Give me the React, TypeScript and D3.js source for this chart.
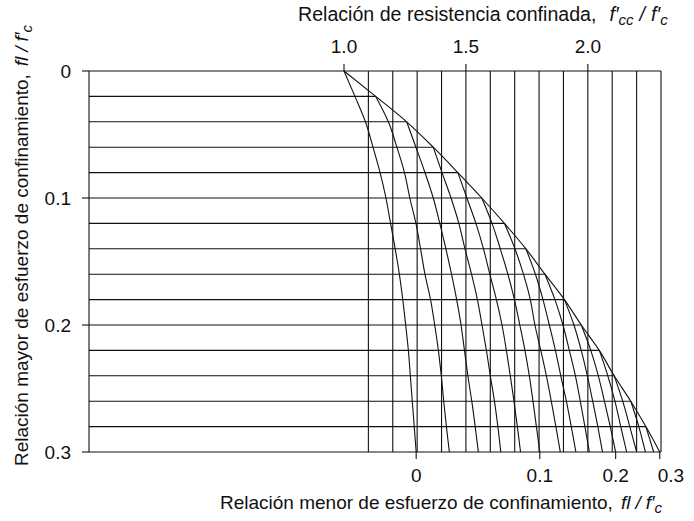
import * as d3 from "d3";

// fl/f'c mayor (eje vertical) y menor (familia de curvas)
const majorRatios = [0, 0.02, 0.04, 0.06, 0.08, 0.1, 0.12, 0.14, 0.16, 0.18, 0.2, 0.22, 0.24, 0.26, 0.28, 0.3];
const minorRatios = [0, 0.02, 0.04, 0.06, 0.08, 0.1, 0.12, 0.14, 0.16, 0.18, 0.2, 0.22, 0.24, 0.26, 0.28, 0.3];

// lineas verticales de f'cc/f'c
const gridK = [1.1, 1.2, 1.3, 1.4, 1.5, 1.6, 1.7, 1.8, 1.9, 2.0, 2.1, 2.2, 2.3];
const topTicks = [1.0, 1.5, 2.0];
const leftTicks = [0, 0.1, 0.2, 0.3];
const bottomTicks = [0, 0.1, 0.2, 0.3];

// f'cc/f'c a lo largo de cada curva (menor constante), desde la envolvente hasta mayor = 0.3
const k00 = [1.0, 1.045, 1.088, 1.119, 1.148, 1.172, 1.191, 1.21, 1.227, 1.241, 1.253, 1.264, 1.272, 1.28, 1.288, 1.296];
const k02 = [1.13, 1.182, 1.217, 1.248, 1.27, 1.295, 1.314, 1.332, 1.355, 1.372, 1.387, 1.399, 1.409, 1.42, 1.432];
const k04 = [1.257, 1.295, 1.332, 1.366, 1.393, 1.418, 1.441, 1.462, 1.48, 1.494, 1.508, 1.524, 1.538, 1.551];
const k06 = [1.366, 1.402, 1.439, 1.471, 1.496, 1.523, 1.547, 1.566, 1.584, 1.6, 1.617, 1.631, 1.643];
const k08 = [1.467, 1.504, 1.541, 1.572, 1.598, 1.625, 1.648, 1.666, 1.682, 1.697, 1.711, 1.724];
const k10 = [1.565, 1.607, 1.641, 1.672, 1.699, 1.721, 1.742, 1.76, 1.775, 1.789, 1.803];
const k12 = [1.658, 1.701, 1.736, 1.764, 1.783, 1.807, 1.83, 1.85, 1.869, 1.887];
const k14 = [1.746, 1.785, 1.816, 1.842, 1.867, 1.889, 1.912, 1.932, 1.951];
const k16 = [1.824, 1.865, 1.898, 1.924, 1.949, 1.969, 1.988, 2.006];
const k18 = [1.904, 1.943, 1.973, 1.998, 2.02, 2.041, 2.06];
const k20 = [1.973, 2.012, 2.043, 2.068, 2.092, 2.114];
const k22 = [2.047, 2.082, 2.111, 2.135, 2.159];
const k24 = [2.108, 2.143, 2.172, 2.2];
const k26 = [2.176, 2.209, 2.236];
const k28 = [2.238, 2.27];
const k30 = [2.295];

const curves = [k00, k02, k04, k06, k08, k10, k12, k14, k16, k18, k20, k22, k24, k26, k28, k30];

const W = 694;
const H = 521;
const frameLeft = 89;
const ink = "#111";
const font = "'Liberation Sans', Arial, Helvetica, sans-serif";

export default function App() {
  const x = d3.scaleLinear().domain([1, 2.3]).range([344, 661]);
  const y = d3.scaleLinear().domain([0, 0.3]).range([71, 452]);

  const envelope = curves.map((c) => c[0]);
  const line = d3
    .line<[number, number]>()
    .x((d) => x(d[0]))
    .y((d) => y(d[1]))
    .curve(d3.curveMonotoneY);

  const bottomAt = (v: number) => {
    const i = minorRatios.findIndex((m) => Math.abs(m - v) < 1e-9);
    const c = curves[i];
    return x(c[c.length - 1]);
  };

  return (
    <svg
      width={W}
      height={H}
      style={{ position: "absolute", left: 0, top: 0, background: "#fff" }}
      fontFamily={font}
    >
      <g stroke={ink} strokeWidth={1.1} fill="none">
        {/* marco: superior, inferior, izquierdo */}
        <line x1={frameLeft} x2={x(2.3)} y1={y(0)} y2={y(0)} />
        <line x1={frameLeft} x2={x(2.3)} y1={y(0.3)} y2={y(0.3)} />
        <line x1={frameLeft} x2={frameLeft} y1={y(0)} y2={y(0.3)} />

        {/* horizontales hasta la envolvente */}
        {majorRatios.slice(1, -1).map((m, i) => (
          <line key={"h" + m} x1={frameLeft} x2={x(envelope[i + 1])} y1={y(m)} y2={y(m)} />
        ))}

        {/* verticales */}
        {gridK.map((k) => (
          <line key={"v" + k} x1={x(k)} x2={x(k)} y1={y(0)} y2={y(0.3)} />
        ))}

        {/* envolvente */}
        <path d={line(envelope.map((k, i) => [k, majorRatios[i]]) as [number, number][]) || ""} />

        {/* curvas de menor constante */}
        {curves.map((c, i) =>
          c.length > 1 ? (
            <path
              key={"c" + i}
              d={line(c.map((k, j) => [k, majorRatios[i + j]]) as [number, number][]) || ""}
            />
          ) : null
        )}

        {/* marcas */}
        {topTicks.map((k) => (
          <line key={"tt" + k} x1={x(k)} x2={x(k)} y1={y(0) - 7} y2={y(0)} />
        ))}
        {leftTicks.map((m) => (
          <line key={"lt" + m} x1={frameLeft - 7} x2={frameLeft} y1={y(m)} y2={y(m)} />
        ))}
        {bottomTicks.map((v) => (
          <line key={"bt" + v} x1={bottomAt(v)} x2={bottomAt(v)} y1={y(0.3)} y2={y(0.3) + 7} />
        ))}
      </g>

      <g fill={ink} fontSize={19}>
        {topTicks.map((k) => (
          <text key={"tl" + k} x={x(k)} y={53} textAnchor="middle">
            {k.toFixed(1)}
          </text>
        ))}
        {leftTicks.map((m) => (
          <text key={"ll" + m} x={71} y={y(m) + 7} textAnchor="end">
            {m === 0 ? "0" : m.toFixed(1)}
          </text>
        ))}
        {bottomTicks.map((v) => (
          <text
            key={"bl" + v}
            x={v === 0.3 ? bottomAt(v) - 2 : bottomAt(v)}
            y={482}
            textAnchor={v === 0.3 ? "start" : "middle"}
          >
            {v === 0 ? "0" : v.toFixed(1)}
          </text>
        ))}

        <text x={298} y={21} fontSize={19.6}>
          Relación de resistencia confinada,
          <tspan dx={13} fontStyle="italic">f′</tspan>
          <tspan fontStyle="italic" fontSize={15} dy={4}>cc</tspan>
          <tspan fontStyle="italic" dy={-4} dx={6}>/</tspan>
          <tspan fontStyle="italic" dx={6}>f′</tspan>
          <tspan fontStyle="italic" fontSize={15} dy={4}>c</tspan>
        </text>

        <text x={220} y={509}>
          Relación menor de esfuerzo de confinamiento,
          <tspan dx={8} fontStyle="italic">fl</tspan>
          <tspan fontStyle="italic" dx={5}>/</tspan>
          <tspan fontStyle="italic" dx={5}>f′</tspan>
          <tspan fontStyle="italic" fontSize={15} dy={4}>c</tspan>
        </text>

        <text transform="translate(28,466) rotate(-90)">
          Relación mayor de esfuerzo de confinamiento,
          <tspan dx={8} fontStyle="italic">fl</tspan>
          <tspan fontStyle="italic" dx={5}>/</tspan>
          <tspan fontStyle="italic" dx={5}>f′</tspan>
          <tspan fontStyle="italic" fontSize={15} dy={4}>c</tspan>
        </text>
      </g>
    </svg>
  );
}
